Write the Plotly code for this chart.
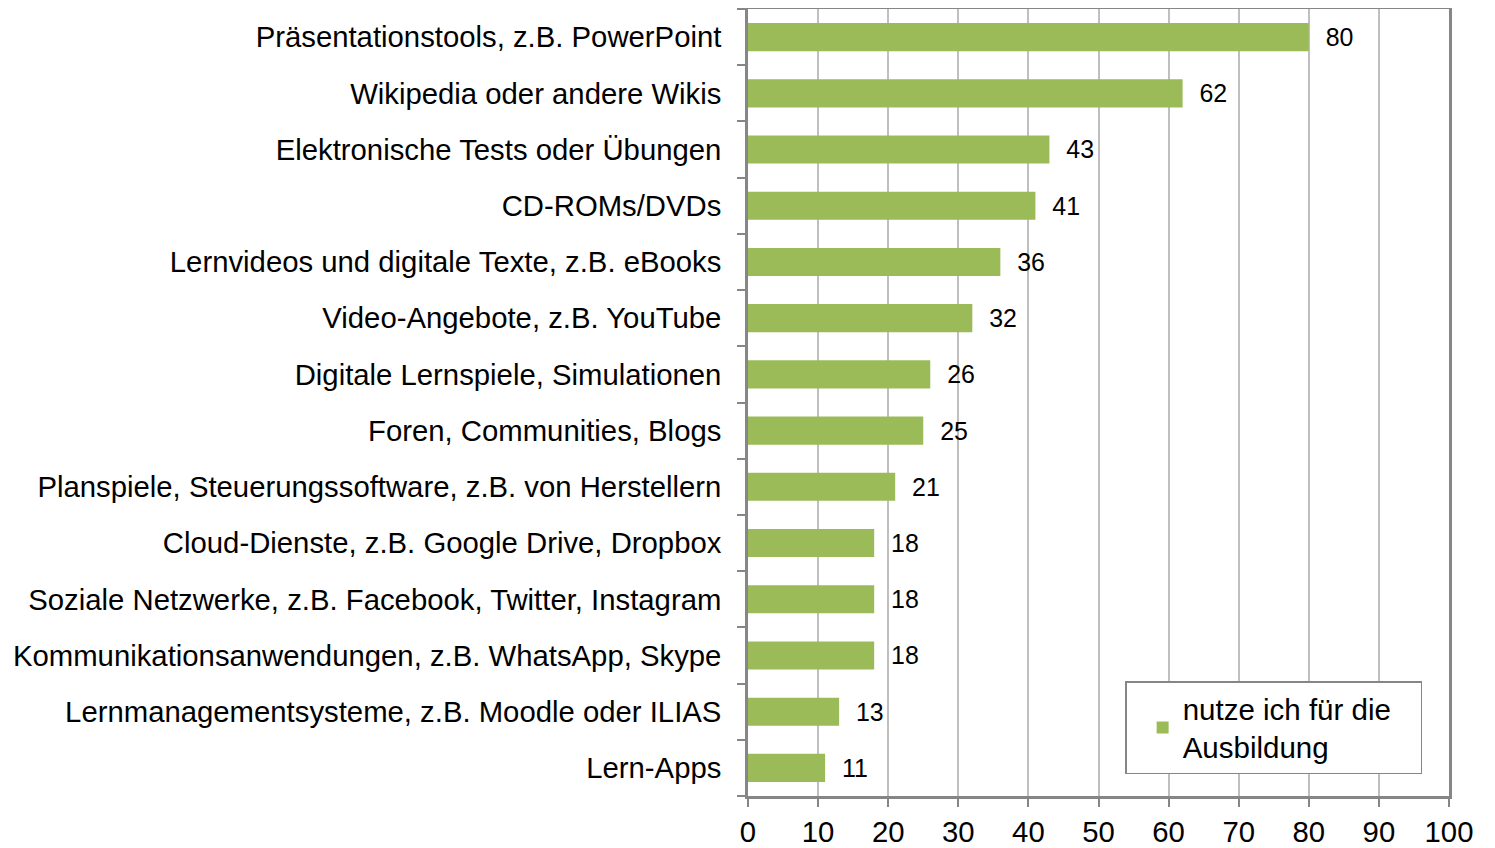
import plotly.graph_objects as go

categories = [
    "Präsentationstools, z.B. PowerPoint",
    "Wikipedia oder andere Wikis",
    "Elektronische Tests oder Übungen",
    "CD-ROMs/DVDs",
    "Lernvideos und digitale Texte, z.B. eBooks",
    "Video-Angebote, z.B. YouTube",
    "Digitale Lernspiele, Simulationen",
    "Foren, Communities, Blogs",
    "Planspiele, Steuerungssoftware, z.B. von Herstellern",
    "Cloud-Dienste, z.B. Google Drive, Dropbox",
    "Soziale Netzwerke, z.B. Facebook, Twitter, Instagram",
    "Kommunikationsanwendungen, z.B. WhatsApp, Skype",
    "Lernmanagementsysteme, z.B. Moodle oder ILIAS",
    "Lern-Apps",
]
values = [80, 62, 43, 41, 36, 32, 26, 25, 21, 18, 18, 18, 13, 11]
series_name = "nutze ich für die\u00a0\u00a0\u00a0<br>Ausbildung"
x_ticks = [0, 10, 20, 30, 40, 50, 60, 70, 80, 90, 100]

FONT = "Liberation Sans, Arial, sans-serif"
FS = 29.3
GREEN = "#9BBB59"
AXIS = "#868686"
GRID = "#BFBFBF"

fig = go.Figure(
    go.Bar(
        y=categories,
        x=values,
        orientation="h",
        marker=dict(color=GREEN, line=dict(width=0)),
        name=series_name,
        text=values,
        texttemplate="  %{x}",
        textposition="outside",
        textfont=dict(size=FS, color="black", family=FONT),
        cliponaxis=False,
        showlegend=True,
    )
)

fig.update_layout(
    width=1495,
    height=848,
    margin=dict(l=740, r=54, t=1, b=60, autoexpand=False),
    paper_bgcolor="white",
    plot_bgcolor="white",
    bargap=0.5,
    font=dict(family=FONT, size=FS, color="black"),
    legend=dict(
        x=0.538,
        y=0.146,
        xanchor="left",
        yanchor="top",
        bgcolor="white",
        bordercolor=AXIS,
        borderwidth=1.5,
        font=dict(size=29.5, color="black", family=FONT),
        itemwidth=30,
        indentation=16,
    ),
)

fig.update_xaxes(
    range=[0, 100],
    tickvals=x_ticks,
    ticktext=[str(t) for t in x_ticks],
    showgrid=True,
    gridcolor=GRID,
    gridwidth=2,
    showline=True,
    linecolor=AXIS,
    linewidth=2.5,
    mirror=True,
    ticks="outside",
    ticklen=8,
    tickwidth=2,
    tickcolor=AXIS,
    tickfont=dict(size=FS, color="black"),
    zeroline=False,
    fixedrange=True,
)
fig.update_yaxes(
    categoryorder="array",
    categoryarray=categories[::-1],
    showline=True,
    linecolor=AXIS,
    linewidth=2.5,
    mirror=True,
    ticks="outside",
    tickson="boundaries",
    ticklen=8,
    tickwidth=2,
    tickcolor=AXIS,
    ticklabelstandoff=18,
    tickfont=dict(size=FS, color="black"),
    showgrid=False,
    fixedrange=True,
)

fig.write_html("out.html")
